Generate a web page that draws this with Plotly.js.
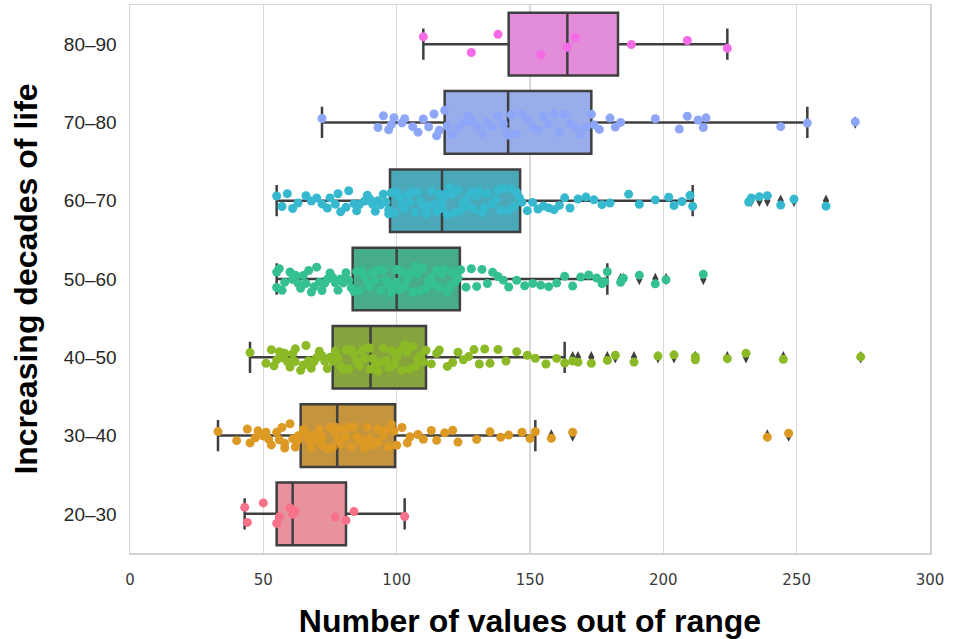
<!DOCTYPE html>
<html>
<head>
<meta charset="utf-8">
<script src="https://cdn.plot.ly/plotly-3.0.1.min.js"></script>
<style>html,body{margin:0;padding:0;background:#fff;}#chart{width:959px;height:639px;}</style>
</head>
<body>
<div id="chart"></div>
<script>
// Categories (bottom to top)
const categories = ['20–30', '30–40', '40–50', '50–60', '60–70', '70–80', '80–90'];

// Box statistics
const q1Values          = [55, 64, 76, 83.5, 97.5, 118, 142];
const medianValues      = [61, 77.7, 90.2, 100, 117, 141.8, 164];
const q3Values          = [81, 99.4, 111, 123.7, 146.3, 173, 183];
const lowerWhiskers     = [43, 33, 45, 55, 55, 72, 110];
const upperWhiskers     = [103, 152, 163, 179, 211, 254, 224];

// Individual observations (estimated from the strip points)
const values20_30 = [43, 44, 50, 55, 56, 60, 61, 62, 77, 81, 84, 103];
const values30_40 = [33, 40, 44, 45, 47, 48, 50, 51, 52, 53, 55, 56, 57, 58, 58, 60, 61, 62, 63, 63,
  65, 66, 67, 68, 69, 70, 71, 72, 72, 74, 75, 76, 77, 77, 78, 79, 80, 81, 82, 83, 84, 85, 86, 88,
  88, 89, 90, 91, 93, 93, 95, 96, 97, 98, 99, 100, 102, 104, 105, 108, 110, 113, 115, 118, 121,
  123, 130, 135, 139, 142, 147, 150, 152, 158, 166, 239, 247];
const values40_50 = [45, 51, 53, 54, 55, 56, 57, 58, 59, 60, 61, 62, 62, 64, 65, 66, 67, 68, 69, 70,
  71, 72, 73, 74, 75, 76, 77, 78, 79, 80, 81, 82, 83, 84, 85, 86, 87, 88, 89, 90, 90, 91, 92, 93,
  94, 95, 96, 97, 98, 99, 100, 101, 102, 103, 104, 105, 106, 107, 108, 109, 110, 111, 113, 115,
  116, 119, 121, 123, 125, 127, 129, 131, 133, 135, 138, 141, 145, 149, 152, 156, 160, 163, 166,
  168, 173, 179, 182, 189, 198, 204, 212, 212, 224, 231, 245, 274];
const values50_60 = [55, 55, 56, 57, 58, 60, 61, 62, 63, 64, 65, 66, 67, 68, 69, 70, 71, 72, 73, 74,
  75, 76, 77, 78, 79, 80, 81, 82, 83, 84, 85, 86, 87, 88, 89, 90, 91, 92, 93, 94, 95, 96, 97, 98,
  99, 100, 100, 101, 102, 103, 104, 105, 106, 107, 108, 109, 110, 111, 112, 113, 114, 115, 116,
  117, 118, 119, 120, 121, 122, 123, 124, 126, 128, 130, 132, 134, 136, 138, 140, 142, 145, 148,
  151, 154, 157, 160, 163, 166, 169, 172, 175, 177, 178, 179, 184, 185, 191, 197, 201, 215];
const values60_70 = [55, 57, 59, 61, 63, 66, 68, 70, 72, 74, 75, 77, 78, 79, 81, 82, 84, 85, 86, 88,
  89, 90, 91, 92, 93, 94, 95, 96, 97, 97, 98, 99, 100, 101, 102, 103, 104, 105, 106, 107, 108,
  109, 110, 111, 112, 113, 114, 115, 116, 117, 117, 118, 119, 120, 121, 122, 123, 124, 125, 126,
  127, 128, 129, 130, 131, 132, 133, 134, 136, 137, 138, 139, 140, 142, 143, 144, 145, 146, 147,
  149, 151, 153, 155, 157, 159, 161, 163, 165, 168, 171, 174, 177, 180, 187, 191, 197, 202, 204,
  207, 210, 211, 232, 233, 236, 239, 244, 249, 261];
const values70_80 = [72, 93, 95, 97, 98, 99, 102, 103, 106, 108, 110, 112, 114, 115, 116, 118, 119,
  121, 123, 125, 127, 128, 130, 132, 134, 136, 138, 140, 141, 142, 143, 145, 147, 149, 151, 153,
  155, 157, 159, 161, 163, 165, 167, 169, 171, 173, 174, 176, 180, 182, 184, 197, 206, 209, 213,
  215, 216, 244, 254, 272];
const values80_90 = [110, 128, 138, 154, 164, 167, 188, 209, 224];

const allValues = [values20_30, values30_40, values40_50, values50_60, values60_70, values70_80, values80_90];

// Colours
const boxColors   = ['#e8929f', '#c5943f', '#86a33e', '#46ac8b', '#4aa8b8', '#9aadeb', '#e28cda'];
const pointColors = ['#f77189', '#dc9a24', '#8bba26', '#35c08f', '#36b8cf', '#8ea6f8', '#f56ae6'];

const traces = [];
// Boxes from precomputed stats
categories.forEach((c, i) => {
  traces.push({
    type: 'box', orientation: 'h', y: [c],
    q1: [q1Values[i]], median: [medianValues[i]], q3: [q3Values[i]],
    lowerfence: [lowerWhiskers[i]], upperfence: [upperWhiskers[i]],
    width: 0.8, whiskerwidth: 0.5, boxpoints: false,
    fillcolor: boxColors[i], line: {color: '#3f3f3f', width: 2.5},
    showlegend: false, hoverinfo: 'x'
  });
});
// Fliers (points beyond whiskers) as dark diamonds
const flierX = [], flierY = [];
allValues.forEach((arr, i) => arr.forEach(v => {
  if (v > upperWhiskers[i] || v < lowerWhiskers[i]) { flierX.push(v); flierY.push(categories[i]); }
}));
traces.push({
  type: 'box', orientation: 'h', x: flierX, y: flierY, width: 0.8,
  boxpoints: 'all', jitter: 0, pointpos: 0,
  fillcolor: 'rgba(0,0,0,0)', line: {width: 0, color: 'rgba(0,0,0,0)'},
  marker: {symbol: 'diamond-tall', size: 9, color: '#3f3f3f'},
  showlegend: false, hoverinfo: 'x'
});
// Strip points
categories.forEach((c, i) => {
  traces.push({
    type: 'box', orientation: 'h', x: allValues[i], y0: c, width: 0.8,
    boxpoints: 'all', jitter: 0.45, pointpos: 0,
    fillcolor: 'rgba(0,0,0,0)', line: {width: 0, color: 'rgba(0,0,0,0)'},
    marker: {size: 9, color: pointColors[i]},
    showlegend: false, hoverinfo: 'x'
  });
});

const layout = {
  width: 959, height: 639,
  margin: {l: 130, r: 29, t: 5, b: 86},
  paper_bgcolor: '#ffffff', plot_bgcolor: '#ffffff',
  boxmode: 'overlay', showlegend: false,
  xaxis: {
    range: [0, 300], tickvals: [0, 50, 100, 150, 200, 250, 300],
    showgrid: true, gridcolor: '#d9d9d9', gridwidth: 1.5, zeroline: false,
    showline: true, mirror: true, linecolor: '#d3d3d3', linewidth: 1.5,
    ticks: '', ticklabelstandoff: 12,
    tickfont: {family: 'DejaVu Sans', size: 15, color: '#3a3a3a'},
    title: {text: 'Number of values out of range', standoff: 22,
            font: {family: 'Liberation Sans', size: 32, color: '#000000', weight: 'bold'}}
  },
  yaxis: {
    type: 'category', categoryorder: 'array', categoryarray: categories,
    range: [-0.5, 6.5], showgrid: false, zeroline: false,
    showline: true, mirror: true, linecolor: '#d3d3d3', linewidth: 1.5,
    ticks: '', ticklabelstandoff: 8,
    tickfont: {family: 'Liberation Sans', size: 19, color: '#262626'},
    title: {text: 'Increasing decades of life', standoff: 16,
            font: {family: 'Liberation Sans', size: 32, color: '#000000', weight: 'bold'}}
  }
};

Plotly.newPlot('chart', traces, layout, {displayModeBar: false, staticPlot: true});
</script>
</body>
</html>
